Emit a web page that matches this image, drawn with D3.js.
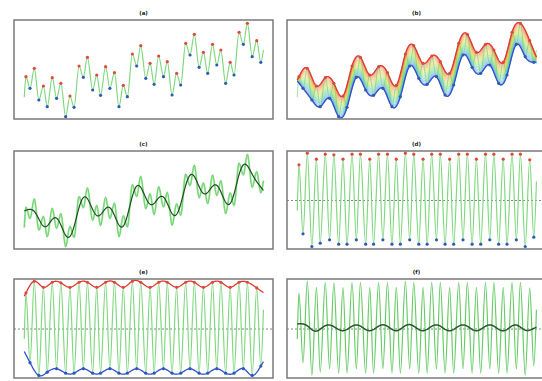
<!DOCTYPE html>
<html><head><meta charset="utf-8">
<script src="https://cdn.jsdelivr.net/npm/d3@7"></script>
<style>body{margin:0;background:#fff}svg{display:block}</style>
</head><body>
<script>
// ---- data ----
const titles = ["(a)", "(b)", "(c)", "(d)", "(e)", "(f)"];
// signal: maxima / minima (time, value) and end points
const sigMaxT = [0.07,0.42,0.80,1.17,1.53,1.91,2.29,2.64,3.03,3.40,3.77,4.14,4.52,4.87,5.26,5.62,5.98,6.37,6.75,7.11,7.49,7.87,8.22,8.61,8.98,9.33,9.72];
const sigMaxV = [4.23,5.07,3.30,4.13,3.57,2.30,5.30,6.17,4.40,5.23,4.63,3.37,6.50,7.33,5.57,6.30,5.73,4.57,7.57,8.47,6.67,7.47,6.90,5.67,8.67,9.57,7.83];
const sigMinT = [0.24,0.61,0.96,1.35,1.73,2.08,2.47,2.86,3.19,3.58,3.96,4.31,4.70,5.08,5.43,5.82,6.18,6.54,6.93,7.31,7.67,8.05,8.42,8.77,9.16,9.53,9.89];
const sigMinV = [3.07,1.90,1.23,2.07,0.23,1.17,4.17,2.90,2.37,3.07,1.23,2.23,5.30,4.07,3.47,4.23,2.40,3.40,6.40,5.17,4.57,5.40,3.57,4.40,7.47,6.23,5.67];
const sigEndT = [0, 10];
const sigEndV = [2.17, 6.90];
// detail (signal minus mean): maxima / minima values at the same times
const impMaxV = [3.57,4.73,4.13,4.63,4.57,4.13,4.63,4.63,4.13,4.63,4.63,4.13,4.73,4.63,4.13,4.63,4.63,4.13,4.63,4.63,4.13,4.63,4.63,4.13,4.63,4.63,4.07];
const impMinV = [-3.33,-4.60,-4.27,-3.93,-4.37,-4.37,-3.93,-4.37,-4.37,-3.93,-4.37,-4.37,-3.93,-4.37,-4.37,-3.93,-4.37,-4.37,-3.93,-4.37,-4.37,-3.93,-4.37,-4.37,-3.93,-4.60,-3.67];
const impEndV = [-1.0, 1.9];

// ---- helpers ----
function spline(xs, ys) {
  const n = xs.length, h = [], M = new Array(n).fill(0), cp = new Array(n).fill(0), dp = new Array(n).fill(0);
  for (let i = 0; i < n - 1; i++) h[i] = xs[i + 1] - xs[i];
  for (let i = 1; i < n - 1; i++) {
    const A = h[i - 1], B = 2 * (h[i - 1] + h[i]), C = h[i];
    const D = 6 * ((ys[i + 1] - ys[i]) / h[i] - (ys[i] - ys[i - 1]) / h[i - 1]);
    const m = B - A * cp[i - 1];
    cp[i] = C / m; dp[i] = (D - A * dp[i - 1]) / m;
  }
  for (let i = n - 2; i >= 1; i--) M[i] = dp[i] - cp[i] * M[i + 1];
  return x => {
    if (x <= xs[0]) { const s = (ys[1] - ys[0]) / h[0] - h[0] * (2 * M[0] + M[1]) / 6; return ys[0] + s * (x - xs[0]); }
    if (x >= xs[n - 1]) { const k = n - 2; const s = (ys[n - 1] - ys[k]) / h[k] + h[k] * (M[k] + 2 * M[n - 1]) / 6; return ys[n - 1] + s * (x - xs[n - 1]); }
    let i = d3.bisectRight(xs, x) - 1; if (i > n - 2) i = n - 2;
    const hh = h[i], a = xs[i + 1] - x, b = x - xs[i];
    return M[i] * a * a * a / (6 * hh) + M[i + 1] * b * b * b / (6 * hh) + (ys[i] / hh - M[i] * hh / 6) * a + (ys[i + 1] / hh - M[i + 1] * hh / 6) * b;
  };
}
const pts = (T, V) => T.map((t, i) => [t, V[i]]);
const series = (maxV, minV, endV) => pts(sigMaxT, maxV).concat(pts(sigMinT, minV), pts(sigEndT, endV)).sort((a, b) => a[0] - b[0]);

const sig = series(sigMaxV, sigMinV, sigEndV);
const imp = series(impMaxV, impMinV, impEndV);
const grid = d3.range(0, 10.0001, 0.02);
const sU = spline(sigMaxT, sigMaxV), sL = spline(sigMinT, sigMinV);
const iU = spline(sigMaxT, impMaxV), iL = spline(sigMinT, impMinV);

const W = 542, H = 381;
const cols = [[14, 273], [287, 546]], rows = [[20, 119], [151, 249], [279, 378]];
const svg = d3.select("body").append("svg").attr("width", W).attr("height", H);
const maxC = "#dd4a3a", minC = "#2b5bb5";

function panel(idx, ydom) {
  const c = cols[idx % 2], r = rows[Math.floor(idx / 2)];
  const x = d3.scaleLinear().domain([-0.43, 10.40]).range(c);
  const y = d3.scaleLinear().domain(ydom).range([r[1], r[0]]);
  svg.append("clipPath").attr("id", "cp" + idx).append("rect")
    .attr("x", c[0]).attr("y", r[0]).attr("width", c[1] - c[0]).attr("height", r[1] - r[0]);
  const g = svg.append("g").attr("clip-path", `url(#cp${idx})`);
  svg.append("text").attr("x", (c[0] + c[1]) / 2).attr("y", r[0] - 5)
    .attr("text-anchor", "middle").attr("font-family", "DejaVu Sans").attr("font-weight", "bold")
    .attr("font-size", 5.5).attr("fill", "#222").text(titles[idx]);
  const frame = () => svg.append("rect").attr("x", c[0]).attr("y", r[0]).attr("width", c[1] - c[0]).attr("height", r[1] - r[0])
    .attr("fill", "none").attr("stroke", "#7a7a7a").attr("stroke-width", 1.5);
  const curve = d3.line().x(d => x(d[0])).y(d => y(d[1])).curve(d3.curveMonotoneX);
  const lin = d3.line().x(d => x(d[0])).y(d => y(d[1]));
  const dots = (T, V, col, rr) => g.selectAll(null).data(pts(T, V)).enter().append("circle")
    .attr("cx", d => x(d[0])).attr("cy", d => y(d[1])).attr("r", rr || 1.6).attr("fill", col);
  const zero = () => g.append("line").attr("x1", c[0]).attr("x2", c[1]).attr("y1", y(0)).attr("y2", y(0))
    .attr("stroke", "#666").attr("stroke-width", 0.8).attr("stroke-dasharray", "2,2");
  return { g, x, y, curve, lin, dots, zero, frame };
}

const sigDom = [0, 9.9], impDom = [-4.85, 4.95];
const fanCol = d3.interpolateRgbBasis(["#3355d6", "#33b8e0", "#5cd65c", "#e6e040", "#f09a30", "#e03a30"]);

// (a)
{ const p = panel(0, sigDom);
  p.g.append("path").datum(sig).attr("d", p.curve).attr("fill", "none").attr("stroke", "#80d880").attr("stroke-width", 1.2);
  p.dots(sigMaxT, sigMaxV, maxC); p.dots(sigMinT, sigMinV, minC); p.frame(); }
// (b)
{ const p = panel(1, sigDom);
  const N = 14;
  for (let k = 0; k <= N; k++) {
    p.g.append("path").datum(grid.map(t => [t, sL(t) + (sU(t) - sL(t)) * k / N])).attr("d", p.lin)
      .attr("fill", "none").attr("stroke", fanCol(k / N)).attr("stroke-width", 1.2).attr("stroke-opacity", 0.45);
  }
  p.g.append("path").datum(sig).attr("d", p.curve).attr("fill", "none").attr("stroke", "#6fcf6f").attr("stroke-width", 0.9).attr("stroke-opacity", 0.7);
  p.g.append("path").datum(grid.map(t => [t, sU(t)])).attr("d", p.lin).attr("fill", "none").attr("stroke", "#e03a30").attr("stroke-width", 1.3);
  p.g.append("path").datum(grid.map(t => [t, sL(t)])).attr("d", p.lin).attr("fill", "none").attr("stroke", "#3050d0").attr("stroke-width", 1.3);
  p.dots(sigMaxT, sigMaxV, maxC); p.dots(sigMinT, sigMinV, minC); p.frame(); }
// (c)
{ const p = panel(2, sigDom);
  p.g.append("path").datum(sig).attr("d", p.curve).attr("fill", "none").attr("stroke", "#b2ecb2").attr("stroke-width", 2.2);
  p.g.append("path").datum(sig).attr("d", p.curve).attr("fill", "none").attr("stroke", "#5cc85c").attr("stroke-width", 0.8);
  p.g.append("path").datum(grid.map(t => [t, (sU(t) + sL(t)) / 2])).attr("d", p.lin).attr("fill", "none").attr("stroke", "#234a23").attr("stroke-width", 1.2);
  p.frame(); }
// (d)
{ const p = panel(3, impDom);
  p.zero();
  p.g.append("path").datum(imp).attr("d", p.curve).attr("fill", "none").attr("stroke", "#80d880").attr("stroke-width", 1.2);
  p.dots(sigMaxT, impMaxV, maxC); p.dots(sigMinT, impMinV, minC); p.frame(); }
// (e)
{ const p = panel(4, impDom);
  p.zero();
  p.g.append("path").datum(imp).attr("d", p.curve).attr("fill", "none").attr("stroke", "#80d880").attr("stroke-width", 1.2);
  p.g.append("path").datum(grid.map(t => [t, iU(t)])).attr("d", p.lin).attr("fill", "none").attr("stroke", "#e03a30").attr("stroke-width", 1.3);
  p.g.append("path").datum(grid.map(t => [t, iL(t)])).attr("d", p.lin).attr("fill", "none").attr("stroke", "#3050d0").attr("stroke-width", 1.3);
  p.dots(sigMaxT, impMaxV, maxC); p.dots(sigMinT, impMinV, minC); p.frame(); }
// (f)
{ const p = panel(5, impDom);
  p.zero();
  p.g.append("path").datum(imp).attr("d", p.curve).attr("fill", "none").attr("stroke", "#66cc66").attr("stroke-width", 1.2);
  p.g.append("path").datum(grid.map(t => [t, (iU(t) + iL(t)) / 2])).attr("d", p.lin).attr("fill", "none").attr("stroke", "#2a552a").attr("stroke-width", 1.5);
  p.frame(); }
</script>
</body></html>
